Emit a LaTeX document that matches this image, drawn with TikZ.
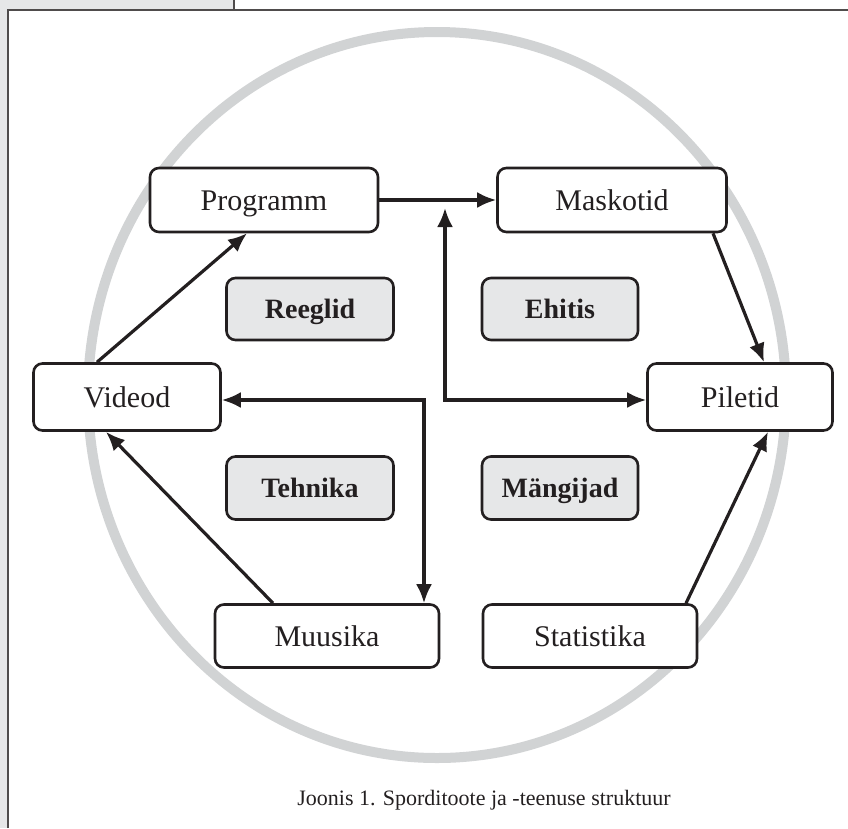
\documentclass[tikz,border=0pt]{standalone}
\usepackage{fontspec}
\setmainfont{Liberation Serif}
\usetikzlibrary{arrows.meta}
\definecolor{panelgray}{HTML}{E6E7E8}
\definecolor{ringgray}{HTML}{D1D3D4}
\definecolor{inkc}{HTML}{231F20}
\tikzset{
  box/.style={draw=inkc, line width=2.6pt, rounded corners=9pt, fill=white, inner sep=0pt, text=inkc,
     font=\fontsize{30}{34}\selectfont, text height=20pt, text depth=0pt},
  greybox/.style={box, fill=panelgray, font=\fontsize{28}{32}\selectfont\bfseries, text height=19pt},
  conn/.style={draw=inkc, line width=3.2pt, -{Latex[length=19pt,width=16pt]}},
  dconn/.style={draw=inkc, line width=3.2pt, {Latex[length=19pt,width=16pt]}-{Latex[length=19pt,width=16pt]}},
}
\begin{document}
\begin{tikzpicture}[x=1pt,y=-1pt]
\useasboundingbox (0,0) rectangle (848,828);
% page frame
\fill[panelgray] (0,0) rectangle (234,10);
\fill[panelgray] (0,0) rectangle (8,828);
\draw[inkc!80, line width=1.6pt] (8,828) -- (8,10) -- (848,10);
\draw[inkc!80, line width=1.2pt] (234,0) -- (234,10);
% ring
\draw[ringgray, line width=10pt] (437,395) ellipse [x radius=349, y radius=363];
% main nodes
\node[box, minimum width=228pt, minimum height=64pt] (prog) at (264,200) {Programm};
\node[box, minimum width=229pt, minimum height=64pt] (mask) at (612,200) {Maskotid};
\node[box, minimum width=187pt, minimum height=67pt] (vid) at (127,397) {Videod};
\node[box, minimum width=185pt, minimum height=67pt] (pil) at (740,397) {Piletid};
\node[box, minimum width=224pt, minimum height=63pt] (muu) at (327,636) {Muusika};
\node[box, minimum width=214pt, minimum height=63pt] (stat) at (590,636) {Statistika};
% grey nodes
\node[greybox, minimum width=167pt, minimum height=62pt] (reeg) at (310,309) {Reeglid};
\node[greybox, minimum width=156pt, minimum height=62pt] (ehit) at (560,309) {Ehitis};
\node[greybox, minimum width=167pt, minimum height=63pt] (tehn) at (310,488) {Tehnika};
\node[greybox, minimum width=156pt, minimum height=63pt] (mang) at (560,488) {Mängijad};
% connectors
\coordinate (up) at (445,208);
\coordinate (upc) at (445,400);
\coordinate (mc) at (424,400);
\path[conn] (prog.east) -- (mask.west);
\path[dconn] (up) -- (upc) -- (upc -| pil.west);
\path[dconn] (vid.east |- mc) -- (mc) -- (mc |- muu.north);
\path[conn] (vid.north -| 97,0) -- (prog.south -| 247,0);
\path[conn] (muu.north -| 273,0) -- (vid.south -| 106,0);
\path[conn] (mask.south -| 713,0) -- (pil.north -| 764,0);
\path[conn] (stat.north -| 686,0) -- (pil.south -| 768,0);
% caption
\node[text=inkc, font=\fontsize{22}{26}\selectfont] (cap) at (484,800) {Joonis 1. Sporditoote ja -teenuse struktuur};
\end{tikzpicture}
\end{document}
